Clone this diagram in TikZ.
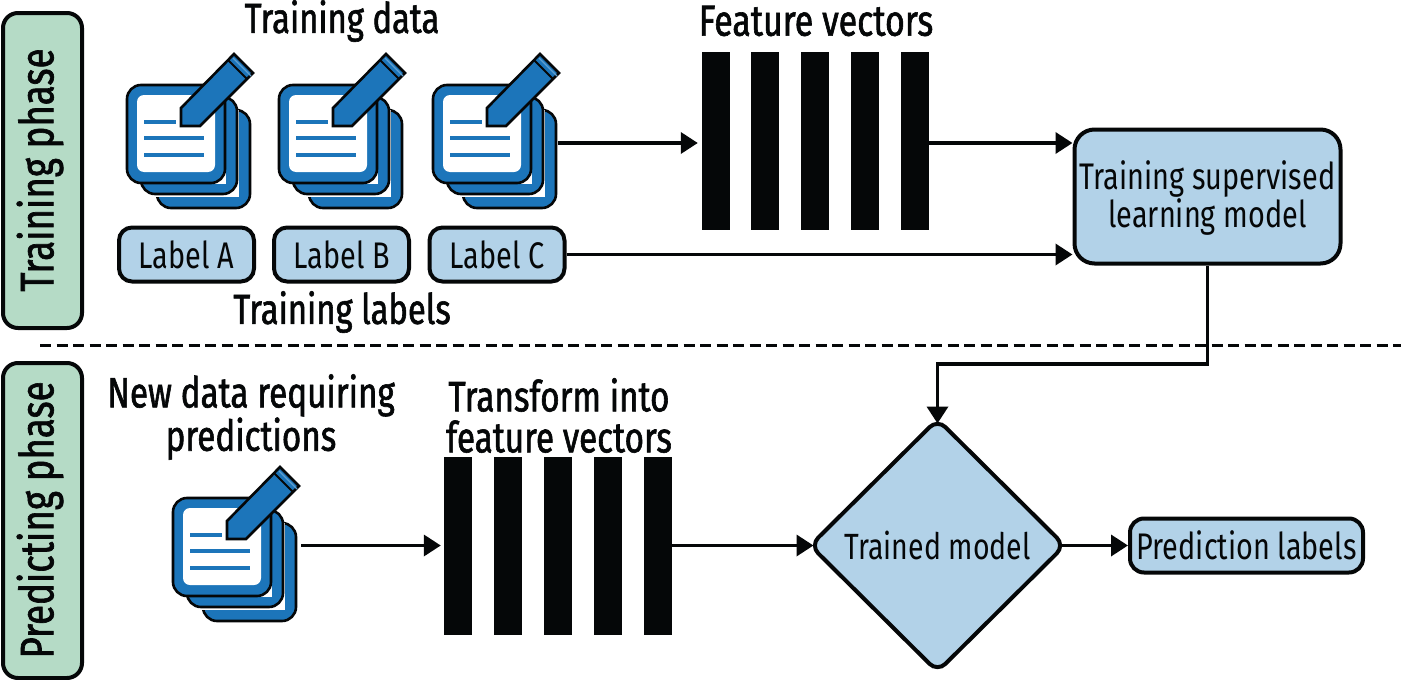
\documentclass[tikz,border=0pt]{standalone}
\usepackage{fontspec}
\setmainfont[FakeStretch=0.78]{Fira Sans}
\newfontfamily\headfont[FakeStretch=0.78,FakeBold=1.4]{Fira Sans}
\usetikzlibrary{arrows.meta,shapes.geometric}
\definecolor{boxblue}{HTML}{B2D2E8}
\definecolor{iconblue}{HTML}{1C75BA}
\definecolor{phasegreen}{HTML}{B5DBC6}
\definecolor{inkk}{HTML}{050708}
\tikzset{
  x=1pt,y=-1pt,
  box/.style={draw=inkk,fill=boxblue,line width=4pt,rounded corners=13pt,inner sep=0pt,align=center,font=\fontsize{37}{35}\selectfont,text=inkk},
  phase/.style={draw=inkk,fill=phasegreen,line width=4pt,rounded corners=15pt,inner sep=0pt,align=center},
  phasetext/.style={rotate=90,font=\headfont\fontsize{47}{48}\selectfont,text=inkk},
  head/.style={font=\headfont\fontsize{42}{38}\selectfont,align=center,text=inkk,inner sep=0pt},
  conn/.style={draw=inkk,line width=3.6pt,-{Triangle[length=17pt,width=21pt]}},
  bar/.style={fill=inkk,draw=none,minimum width=28pt,inner sep=0pt},
  sheet/.style={draw=inkk,fill=iconblue,line width=2.6pt,rounded corners=14pt},
  icon/.pic={
    \draw[sheet] (157,110) rectangle (250,208);
    \fill[white] (148,110) rectangle (239,197);
    \draw[sheet] (141,97) rectangle (237,194);
    \fill[white] (138,98) rectangle (226,184);
    \draw[sheet] (127,85) rectangle (225,183);
    \fill[white,rounded corners=7pt] (137,95) rectangle (215,172);
    \fill[iconblue] (144,120) rectangle (176,124);
    \fill[iconblue] (144,136) rectangle (204,140);
    \fill[iconblue] (144,153) rectangle (204,157);
    \draw[draw=inkk,fill=iconblue,line width=2.6pt,line join=miter]
      (181,108) -- (181,126) -- (200,126) -- (253,73) -- (234,54) -- cycle;
    \draw[draw=inkk,line width=2pt] (228,60) -- (247,79);
    \draw[draw=iconblue!70!white,line width=1.2pt] (233,58) -- (251,76);
  }
}
\begin{document}
\begin{tikzpicture}
\useasboundingbox (0,0) rectangle (1401,680);
% phases
\node[phase,minimum width=79pt,minimum height=315pt] (tp) at (42.5,170.5) {};
\node[phasetext] (tptext) at (40,170) {Training phase};
\node[phase,minimum width=79pt,minimum height=315pt] (pp) at (42.5,520.5) {};
\node[phasetext] (pptext) at (40,520) {Predicting phase};
% dashed
\coordinate (dl) at (40,345);
\coordinate (dr) at (1401,345);
\draw[draw=inkk,line width=3pt,dash pattern=on 11pt off 5.5pt] (dl) -- (dr);
% headings
\node[head] (h1) at (342,21) {Training data};
\node[head,font=\headfont\fontsize{43.4}{38}\selectfont] (h2) at (816,21) {Feature vectors};
\node[head] (h3) at (342,312) {Training labels};
\node[head,font=\headfont\fontsize{42.6}{38}\selectfont] (h4) at (251,417) {New data requiring\\predictions};
\node[head,font=\headfont\fontsize{42.6}{41}\selectfont] (h5) at (559,415.5) {Transform into\\feature vectors};
% icons
\pic (i1) at (0,0) {icon};
\pic (i2) at (152,0) {icon};
\pic (i3) at (306,0) {icon};
\pic (i4) at (46,413) {icon};
% label boxes
\node[box,minimum width=135pt,minimum height=54pt] (la) at (186.5,254.5) {Label A};
\node[box,minimum width=135pt,minimum height=54pt] (lb) at (341.5,254.5) {Label B};
\node[box,minimum width=135pt,minimum height=54pt] (lc) at (497,254.5) {Label C};
% bars
\foreach \i/\xx in {a/716,b/765,c/815,d/865,e/915}{
  \node[bar,minimum height=178pt] (t\i) at (\xx,141) {};
}
\foreach \i/\xx in {a/458,b/508,c/558,d/608,e/658}{
  \node[bar,minimum height=178pt] (p\i) at (\xx,546) {};
}
% model
\node[box,minimum width=266pt,minimum height=134pt,rounded corners=20pt] (train) at (1207.5,196.5) {};
\node[align=center,inner sep=0pt,font=\fontsize{37}{35}\selectfont,text=inkk] (traintext) at (1207.5,198) {Training supervised\\learning model};
\node[draw=inkk,fill=boxblue,line width=4pt,diamond,aspect=1,inner sep=0pt,minimum width=256pt,minimum height=254pt,rounded corners=11pt,font=\fontsize{36.5}{36}\selectfont,text=inkk] (dia) at (937.5,545.5) {Trained model};
\node[box,minimum width=233pt,minimum height=54pt,rounded corners=14pt] (pred) at (1246.5,545.5) {Prediction labels};
% free ends at icons
\coordinate (ic3) at (558,143);
\coordinate (ic4) at (301,545.5);
\coordinate (bend) at (937.5,364);
% connectors
\draw[conn,shorten >=4pt] (ic3) -- (ta.west |- ic3);
\draw[conn,shorten <=-2pt] (te.east |- ic3) -- (train.west |- ic3);
\draw[conn] (lc.east) -- (train.west |- lc.east);
\draw[conn,shorten >=-7pt] (train.south) |- (bend) -- (dia.north);
\draw[conn,shorten >=3pt] (ic4) -- (pa.west |- ic4);
\draw[conn,shorten <=-2pt,shorten >=-6pt] (pe.east |- ic4) -- (dia.west |- ic4);
\draw[conn,shorten <=-6pt] (dia.east) -- (pred.west);
\end{tikzpicture}
\end{document}
